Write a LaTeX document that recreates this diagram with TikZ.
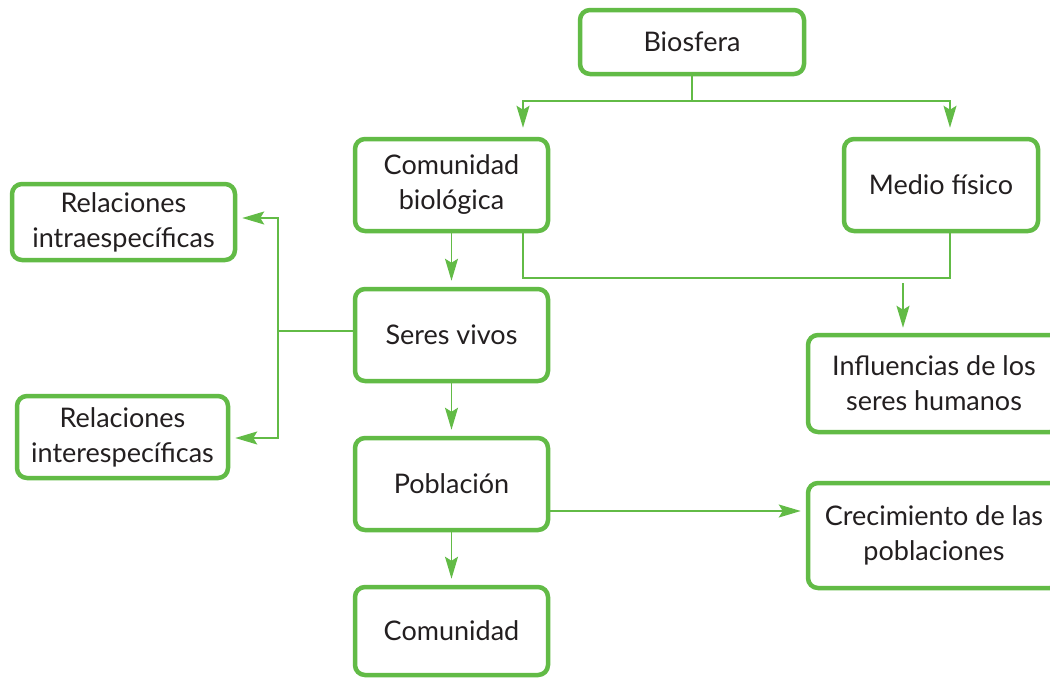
\documentclass[tikz,border=0pt]{standalone}
\usepackage{fontspec}
\setmainfont{Lato}
\usetikzlibrary{arrows.meta}
\definecolor{bgreen}{RGB}{98,187,70}
\definecolor{txt}{RGB}{35,31,32}
\begin{document}
\begin{tikzpicture}[x=1pt,y=-1pt,
 box/.style={draw=bgreen, line width=4.5pt, rounded corners=10pt, fill=white, text=txt, align=center, font=\fontsize{27}{35}\selectfont, inner sep=0pt},
 conn/.style={draw=bgreen, line width=1.5pt},
 arr/.style={conn, -{Stealth[length=22pt,width=13pt,inset=4pt]}}]
\clip (0,0) rectangle (1050,680);
\fill[white] (0,0) rectangle (1050,680);
\node[box, minimum width=224pt, minimum height=64pt] (bio) at (692,42) {Biosfera};
\node[box, minimum width=193pt, minimum height=92pt] (comb) at (451.5,185) {Comunidad\\biológica};
\node[box, minimum width=194pt, minimum height=92pt] (medio) at (941,185) {Medio físico};
\node[box, minimum width=223pt, minimum height=76pt] (intra) at (123.5,222) {Relaciones\\intraespecíficas};
\node[box, minimum width=193pt, minimum height=92pt] (seres) at (451.5,335) {Seres vivos};
\node[box, minimum width=211pt, minimum height=82pt] (inter) at (122.5,437) {Relaciones\\interespecíficas};
\node[box, minimum width=252pt, minimum height=97pt] (infl) at (934,383.5) {Influencias de los\\seres humanos};
\node[box, minimum width=193pt, minimum height=92pt] (pobl) at (451.5,484) {Población};
\node[box, minimum width=252pt, minimum height=105pt] (crec) at (934,535.5) {Crecimiento de las\\poblaciones};
\node[box, minimum width=193pt, minimum height=88pt] (comu) at (451.5,631) {Comunidad};
% Biosfera branches
\coordinate (t1) at (523,101);
\coordinate (t2) at (950,101);
\draw[conn] (bio.south) -- (bio.south |- t1);
\draw[arr, shorten >=9pt] (bio.south |- t1) -- (t1) -- (t1 |- comb.north);
\draw[arr, shorten >=9pt] (bio.south |- t1) -- (t2) -- (t2 |- medio.north);
% comunidad biologica -> seres vivos
\draw[arr, shorten >=6pt] (comb.south) -- (seres.north);
% combined line to influencias
\coordinate (t3) at (523,278);
\coordinate (t4) at (950,278);
\coordinate (t5) at (903,283);
\draw[conn] (t3 |- comb.south) -- (t3) -- (t4) -- (t4 |- medio.south);
\draw[arr, shorten >=5pt] (t5) -- (t5 |- infl.north);
% seres vivos -> relaciones
\coordinate (t6) at (278,331);
\coordinate (t7) at (278,218);
\coordinate (t8) at (278,438);
\draw[conn] (seres.west |- t6) -- (t6);
\draw[arr, shorten >=5pt] (t6) -- (t7) -- (t7 -| intra.east);
\draw[arr, shorten >=5pt] (t6) -- (t8) -- (t8 -| inter.east);
% chain
\draw[arr, shorten >=6pt] (seres.south) -- (pobl.north);
\draw[arr, shorten >=6pt] (pobl.south) -- (comu.north);
\coordinate (t9) at (700,511);
\draw[arr, shorten >=5pt] (pobl.east |- t9) -- (t9 -| crec.west);
\end{tikzpicture}
\end{document}
